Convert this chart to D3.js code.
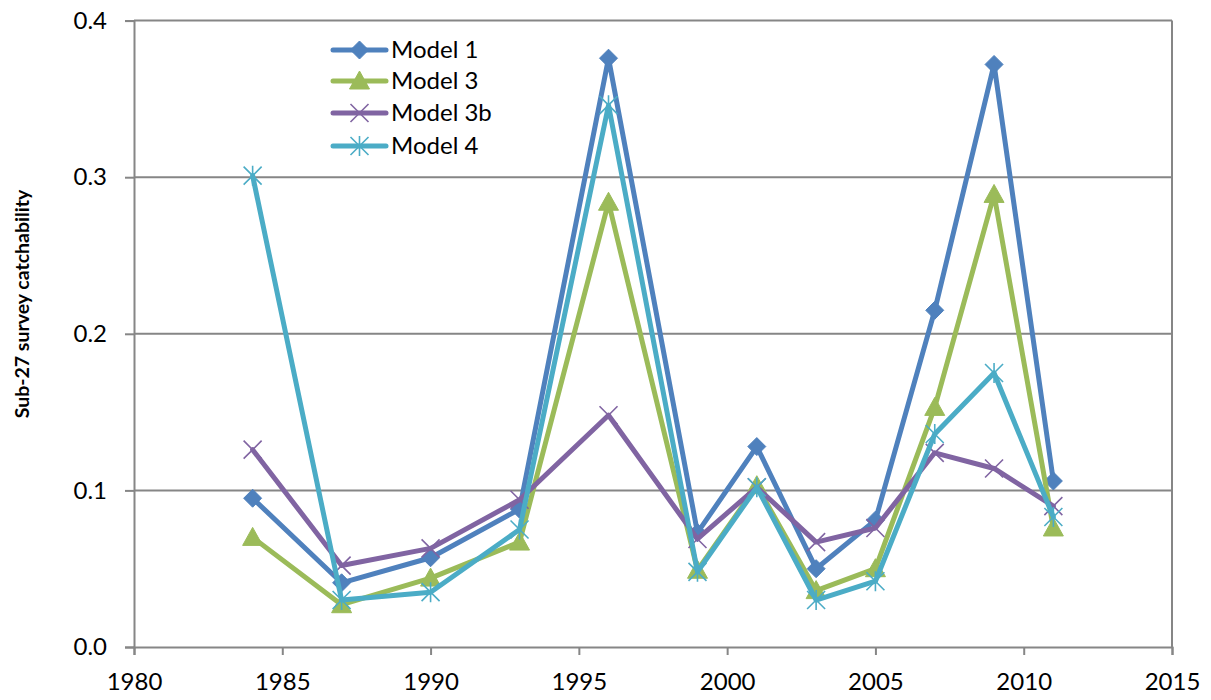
<!DOCTYPE html>
<html>
<head>
<meta charset="utf-8">
<script src="https://cdn.jsdelivr.net/npm/d3@7"></script>
<style>
  body { margin: 0; background: #fff; }
  svg { display: block; }
  text { font-family: Lato, "Open Sans", sans-serif; fill: #000; }
</style>
</head>
<body>
<svg id="chart" width="1211" height="700"></svg>
<script>
const years = [1984, 1987, 1990, 1993, 1996, 1999, 2001, 2003, 2005, 2007, 2009, 2011];
const model1  = [0.095, 0.041, 0.057, 0.088, 0.376, 0.073, 0.128, 0.050, 0.081, 0.215, 0.372, 0.106];
const model3  = [0.070, 0.027, 0.044, 0.067, 0.284, 0.049, 0.103, 0.036, 0.050, 0.153, 0.289, 0.076];
const model3b = [0.126, 0.052, 0.063, 0.094, 0.148, 0.069, 0.102, 0.067, 0.076, 0.124, 0.114, 0.090];
const model4  = [0.301, 0.030, 0.035, 0.075, 0.346, 0.048, 0.102, 0.030, 0.042, 0.136, 0.175, 0.083];
const seriesNames = ["Model 1", "Model 3", "Model 3b", "Model 4"];
const xTicks = [1980, 1985, 1990, 1995, 2000, 2005, 2010, 2015];
const yTicks = [0.0, 0.1, 0.2, 0.3, 0.4];
const yTitle = "Sub-27 survey catchability";

const series = [
  { name: seriesNames[0], values: model1,  color: "#4F81BD", marker: "diamond" },
  { name: seriesNames[1], values: model3,  color: "#9BBB59", marker: "triangle" },
  { name: seriesNames[2], values: model3b, color: "#8064A2", marker: "x" },
  { name: seriesNames[3], values: model4,  color: "#4BACC6", marker: "star" }
];

const svg = d3.select("#chart");
const mLeft = 134, mRight = 1172, mTop = 20.6, mBottom = 647;
const x = d3.scaleLinear().domain([1980, 2015]).range([mLeft, mRight]);
const y = d3.scaleLinear().domain([0, 0.4]).range([mBottom, mTop]);
const axisColor = "#868686";

// gridlines
svg.append("g").selectAll("line").data(yTicks.filter(d => d > 0)).join("line")
  .attr("x1", mLeft).attr("x2", mRight)
  .attr("y1", d => y(d)).attr("y2", d => y(d))
  .attr("stroke", axisColor).attr("stroke-width", 2);

// right border
svg.append("line").attr("x1", mRight).attr("x2", mRight).attr("y1", mTop).attr("y2", mBottom)
  .attr("stroke", axisColor).attr("stroke-width", 2);

// axes
const xAxis = svg.append("g").attr("transform", `translate(0,${mBottom})`)
  .call(d3.axisBottom(x).tickValues(xTicks).tickFormat(d3.format("d")).tickSize(8).tickPadding(18));
const yAxis = svg.append("g").attr("transform", `translate(${mLeft},0)`)
  .call(d3.axisLeft(y).tickValues(yTicks).tickFormat(d3.format(".1f")).tickSize(9).tickPadding(18));
[xAxis, yAxis].forEach(g => {
  g.select(".domain").attr("stroke", axisColor).attr("stroke-width", 2);
  g.selectAll(".tick line").attr("stroke", axisColor).attr("stroke-width", 2);
  g.selectAll(".tick text").attr("font-size", 24).attr("font-family", "Lato, sans-serif").attr("fill", "#000");
});

// y title
svg.append("text")
  .attr("transform", `translate(29,304) rotate(-90)`)
  .attr("text-anchor", "middle")
  .attr("font-size", 19.5).attr("font-weight", "bold")
  .text(yTitle);

function markerPath(type) {
  const s = 9;
  switch (type) {
    case "diamond": return `M0,${-s}L${s},0L0,${s}L${-s},0Z`;
    case "triangle": return `M0,${-s-1}L${s+1},${s-1}L${-s-1},${s-1}Z`;
    case "x": return `M${-s},${-s}L${s},${s}M${-s},${s}L${s},${-s}`;
    case "star": return `M${-s},${-s}L${s},${s}M${-s},${s}L${s},${-s}M0,${-s-1}L0,${s+1}`;
  }
}

const line = d3.line().x((d, i) => x(years[i])).y(d => y(d));

series.forEach(s => {
  const g = svg.append("g");
  g.append("path").datum(s.values).attr("d", line)
    .attr("fill", "none").attr("stroke", s.color).attr("stroke-width", 5)
    .attr("stroke-linejoin", "round").attr("stroke-linecap", "round");
  const filled = s.marker === "diamond" || s.marker === "triangle";
  g.selectAll("path.m").data(s.values).join("path").attr("class", "m")
    .attr("transform", (d, i) => `translate(${x(years[i])},${y(d)})`)
    .attr("d", markerPath(s.marker))
    .attr("fill", filled ? s.color : "none")
    .attr("stroke", s.color).attr("stroke-width", filled ? 1 : 1.6);
});

// legend
const legend = svg.append("g");
const legY = [50, 81, 113, 146];
series.forEach((s, i) => {
  const gy = legY[i];
  legend.append("line").attr("x1", 333).attr("x2", 386).attr("y1", gy).attr("y2", gy)
    .attr("stroke", s.color).attr("stroke-width", 5).attr("stroke-linecap", "round");
  const filled = s.marker === "diamond" || s.marker === "triangle";
  legend.append("path").attr("transform", `translate(359.5,${gy})`)
    .attr("d", markerPath(s.marker))
    .attr("fill", filled ? s.color : "none")
    .attr("stroke", s.color).attr("stroke-width", filled ? 1 : 1.6);
  legend.append("text").attr("x", 391).attr("y", gy).attr("dy", "0.35em")
    .attr("font-size", 24).text(s.name);
});
</script>
</body>
</html>
